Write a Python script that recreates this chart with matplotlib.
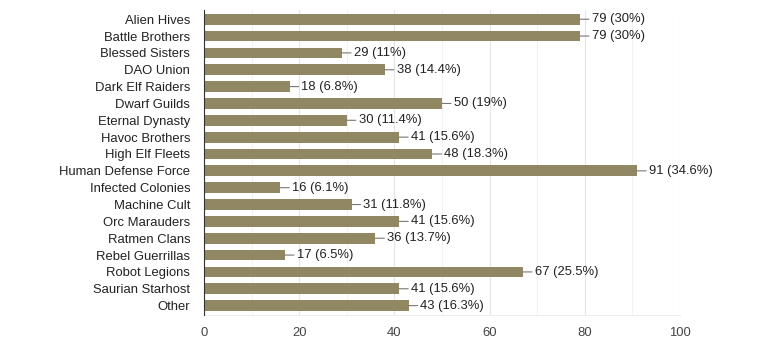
import matplotlib.pyplot as plt
import numpy as np

plt.rcParams['font.family'] = ['Liberation Sans', 'DejaVu Sans']

groups = ["Alien Hives", "Battle Brothers", "Blessed Sisters", "DAO Union",
          "Dark Elf Raiders", "Dwarf Guilds", "Eternal Dynasty", "Havoc Brothers",
          "High Elf Fleets", "Human Defense Force", "Infected Colonies",
          "Machine Cult", "Orc Marauders", "Ratmen Clans", "Rebel Guerrillas",
          "Robot Legions", "Saurian Starhost", "Other"]
counts = [79, 79, 29, 38, 18, 50, 30, 41, 48, 91, 16, 31, 41, 36, 17, 67, 41, 43]
pcts = ["30%", "30%", "11%", "14.4%", "6.8%", "19%", "11.4%", "15.6%", "18.3%",
        "34.6%", "6.1%", "11.8%", "15.6%", "13.7%", "6.5%", "25.5%", "15.6%", "16.3%"]

fig = plt.figure(figsize=(7.59, 3.55), dpi=100)
ax = fig.add_axes([0.2688, 0.113, 0.627, 0.859])

y = np.arange(len(groups))
ax.barh(y, counts, height=0.64, color="#918863", zorder=3)

for yi, c, p in zip(y, counts, pcts):
    ax.annotate(f"{c} ({p})", xy=(c, yi), xytext=(8.5, 0), textcoords="offset points",
                va="center", ha="left", fontsize=9.4, color="#222222",
                arrowprops=dict(arrowstyle="-", color="#777777", lw=0.8,
                                shrinkA=0, shrinkB=0))

ax.set_xlim(0, 100)
ax.set_ylim(len(groups) - 0.45, -0.55)
ax.set_yticks(y)
ax.set_yticklabels(groups)
ax.set_xticks([0, 20, 40, 60, 80, 100])
ax.set_xticks([10, 30, 50, 70, 90], minor=True)
ax.grid(axis="x", which="major", color="#e6e6e6", lw=0.8, zorder=0)
ax.grid(axis="x", which="minor", color="#f2f2f2", lw=0.8, zorder=0)
ax.tick_params(axis="both", which="both", length=0, labelsize=9.4, colors="#222222")
ax.tick_params(axis="x", which="both", pad=9, colors="#444444")
ax.tick_params(axis="y", pad=10)

for s in ["top", "right"]:
    ax.spines[s].set_visible(False)
ax.spines["bottom"].set_color("#eeeeee")
ax.spines["left"].set_color("#333333")
ax.spines["left"].set_zorder(4)

fig.savefig("out.png", dpi=100)
